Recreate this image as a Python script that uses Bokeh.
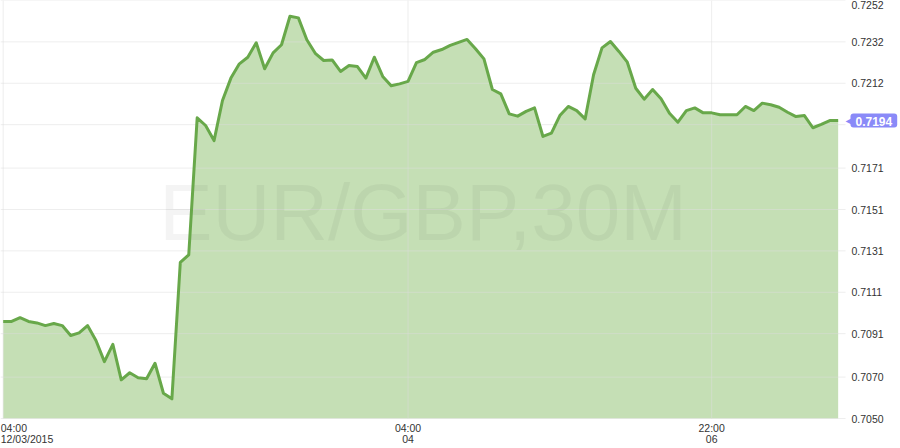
import numpy as np
from bokeh.plotting import figure
from bokeh.models import Range1d, FixedTicker, PrintfTickFormatter, Label, LinearAxis
from bokeh.core.properties import value
from bokeh.embed import file_html
from bokeh.resources import INLINE

# EUR/GBP 30 minute closes
price = [0.70969, 0.70969, 0.70987, 0.70969, 0.70962, 0.70949, 0.70959, 0.70949, 0.70901, 0.70914,
         0.70949, 0.70877, 0.70775, 0.70858, 0.70687, 0.70721, 0.70697, 0.70692, 0.70767, 0.70622,
         0.70595, 0.71255, 0.71291, 0.71953, 0.71916, 0.71843, 0.72037, 0.72145, 0.72214, 0.72246,
         0.72316, 0.72190, 0.72267, 0.72306, 0.72444, 0.72436, 0.72330, 0.72265, 0.72230, 0.72233,
         0.72177, 0.72206, 0.72201, 0.72145, 0.72246, 0.72153, 0.72108, 0.72117, 0.72129, 0.72220,
         0.72235, 0.72270, 0.72283, 0.72303, 0.72318, 0.72332, 0.72287, 0.72238, 0.72090, 0.72069,
         0.71972, 0.71961, 0.71984, 0.72001, 0.71863, 0.71879, 0.71964, 0.72008, 0.71988, 0.71948,
         0.72161, 0.72291, 0.72322, 0.72274, 0.72222, 0.72096, 0.72043, 0.72090, 0.72045, 0.71975,
         0.71932, 0.71988, 0.72001, 0.71977, 0.71977, 0.71968, 0.71968, 0.71968, 0.72008, 0.71988,
         0.72024, 0.72016, 0.72004, 0.71980, 0.71959, 0.71964, 0.71905, 0.71921, 0.71940, 0.71940]
bars = list(range(len(price)))

# axis ticks
x_ticks = [0, 48, 84]
x_labels = ["04:00\n12/03/2015", "04:00\n04", "22:00\n06"]
y_ticks = [0.7050, 0.7070, 0.7091, 0.7111, 0.7131, 0.7151, 0.7171, 0.7192, 0.7212, 0.7232, 0.7252]
y_hidden = 0.7192   # tick label covered by the last price tag

watermark = "EUR/GBP,30M"
line_color = "#68a84a"
fill_color = "#c5dfb5"
grid_color = "#dedede"
tag_color = "#8a8af8"
label_color = "#333333"
font = "Liberation Sans"

# the plot area spans 845x418 px of the 900x448 canvas, axes sit inside it
W, H = 900, 448
plot_w, plot_h = 845, 418
bar_px = 8.434
x_start = -0.32
x_edge = x_start + plot_w / bar_px
x_end = x_start + W / bar_px
y_bottom, y_top = y_ticks[0], y_ticks[-1]
y_low = y_bottom - (H - plot_h) * (y_top - y_bottom) / plot_h

p = figure(width=W, height=H, title=None,
           x_range=Range1d(x_start, x_end), y_range=Range1d(y_low, y_top),
           x_axis_location=None, y_axis_location=None,
           toolbar_location=None, tools="", output_backend="svg")
p.min_border = 0
p.outline_line_color = None
p.background_fill_color = "white"
p.grid.visible = False
p.styles = {"position": "absolute", "left": "0px", "top": "0px"}

# area
p.varea(x=bars, y1=y_bottom, y2=price, fill_color=fill_color)

# grid lines
p.segment(x0=x_start, x1=x_edge, y0=y_ticks, y1=y_ticks,
          line_color=grid_color, line_alpha=0.5, line_width=1)
p.segment(x0=x_ticks, x1=x_ticks, y0=y_bottom, y1=y_top,
          line_color=grid_color, line_alpha=0.5, line_width=1)

# watermark + line
p.text(x=[(x_start + x_edge) / 2], y=[(y_bottom + y_top) / 2], text=[watermark],
       text_font=value(font), text_font_size="80px", text_align="center",
       text_baseline="middle", text_color="black", text_alpha=0.045, y_offset=3)
p.line(bars, price, line_color=line_color, line_width=3, line_join="round")

# right price axis
yaxis = LinearAxis(fixed_location=x_edge, ticker=FixedTicker(ticks=y_ticks),
                   formatter=PrintfTickFormatter(format="%.4f"),
                   major_label_overrides={y_hidden: ""},
                   axis_line_color=None, major_tick_line_color=None,
                   minor_tick_line_color=None, major_tick_out=0, major_tick_in=0,
                   major_label_standoff=6, major_label_text_font=font,
                   major_label_text_font_size="10.5px",
                   major_label_text_color=label_color)
p.add_layout(yaxis, "right")

# bottom time axis (first label drawn separately, left aligned)
xaxis = LinearAxis(fixed_location=y_bottom, ticker=FixedTicker(ticks=x_ticks[1:]),
                   major_label_overrides=dict(zip(x_ticks[1:], x_labels[1:])),
                   axis_line_color=None, major_tick_line_color=None,
                   minor_tick_line_color=None, major_tick_out=0, major_tick_in=0,
                   major_label_standoff=3, major_label_text_font=font,
                   major_label_text_font_size="10.5px",
                   major_label_text_color=label_color,
                   major_label_text_line_height=0.95)
p.add_layout(xaxis, "below")

p.add_layout(Label(x=x_ticks[0], y=y_bottom, x_offset=-2.5, y_offset=-3,
                   text=x_labels[0], text_align="left", text_baseline="top",
                   text_font=font, text_font_size="10.5px", text_color=label_color,
                   text_line_height=0.95))

# last price tag
p.add_layout(Label(x=x_edge, y=price[-1], x_offset=0, text="\u25c0",
                   text_align="left", text_baseline="middle", level="overlay",
                   text_font="DejaVu Sans", text_font_size="10px", text_color=tag_color))
p.add_layout(Label(x=x_edge, y=price[-1], x_offset=5, text="%.4f" % price[-1],
                   text_align="left", text_baseline="middle", level="overlay",
                   text_font=font, text_font_size="12px", text_font_style="bold",
                   text_color="white", background_fill_color=tag_color,
                   padding=dict(left=5, right=5, top=3, bottom=2), border_radius=3))

open("out.html", "w").write(file_html(p, INLINE))
